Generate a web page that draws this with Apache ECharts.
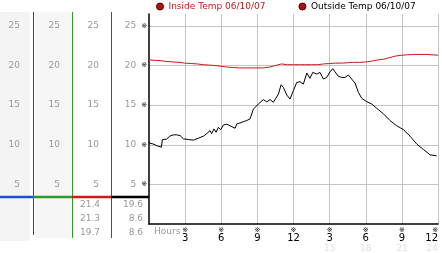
<!DOCTYPE html>
<html>
<head>
<meta charset="utf-8">
<script src="https://cdn.jsdelivr.net/npm/echarts@6/dist/echarts.min.js"></script>
<style>html,body{margin:0;padding:0;background:#fff;}#c{width:442px;height:253px;}</style>
</head>
<body>
<div id="c"></div>
<script>
var seriesNames = ['Inside Temp 06/10/07', 'Outside Temp 06/10/07'];
var xTicks = [3, 6, 9, 12, 15, 18, 21, 24];
var yTicks = [5, 10, 15, 20, 25];
var insideHours = [0,0.5,1,1.5,2,2.5,3,3.5,4,4.5,5,5.5,6,6.5,7,7.5,8,8.5,9,9.5,10,10.5,11,11.5,12,12.5,13,13.5,14,14.5,15,15.5,16,16.5,17,17.5,18,18.5,19,19.5,20,20.5,21,21.5,22,22.5,23,23.5,24];
var insideTemps = [20.7,20.65,20.6,20.5,20.45,20.4,20.3,20.25,20.2,20.1,20.05,20.0,19.9,19.8,19.75,19.7,19.7,19.7,19.7,19.7,19.8,20.0,20.2,20.1,20.1,20.1,20.1,20.1,20.1,20.2,20.25,20.3,20.3,20.35,20.4,20.4,20.45,20.55,20.7,20.8,21.0,21.2,21.3,21.35,21.4,21.4,21.4,21.35,21.3];
var outsideHours = [0,0.33,0.75,1.03,1.11,1.45,1.72,2.0,2.3,2.58,2.86,3.27,3.69,4.1,4.52,4.8,5.07,5.2,5.4,5.57,5.76,5.96,6.18,6.46,6.73,7.15,7.29,7.56,7.84,8.11,8.39,8.67,8.8,9.08,9.5,9.78,10.05,10.33,10.47,10.75,10.97,11.16,11.44,11.71,11.99,12.27,12.54,12.82,13.1,13.37,13.6,13.93,14.2,14.48,14.76,15.03,15.26,15.45,15.73,16.0,16.28,16.56,16.83,17.11,17.39,17.67,18.08,18.5,18.91,19.47,20.02,20.57,21.13,21.68,22.23,22.79,23.34,23.89];
var outsideTemps = [10.24,10.1,9.82,9.7,10.66,10.7,11.08,11.25,11.25,11.16,10.74,10.66,10.58,10.83,11.08,11.41,11.79,11.4,12.0,11.58,12.2,11.9,12.5,12.6,12.4,12.08,12.63,12.75,12.92,13.05,13.26,14.5,14.7,15.14,15.7,15.4,15.7,15.36,15.27,16.4,17.57,17.24,16.28,15.77,16.82,17.87,17.95,17.66,19.04,18.38,19.13,18.92,19.13,18.29,18.5,19.2,19.6,19.2,18.63,18.5,18.5,18.8,18.29,17.79,16.6,15.86,15.44,15.14,14.6,13.9,13.05,12.4,11.9,11.08,10.1,9.4,8.73,8.6];
var insideStats = [21.4, 21.3, 19.7];
var outsideStats = [19.6, 8.6, 8.6];

var FONT = 'DejaVu Sans';
var RED = '#c41a1a';
var chart = echarts.init(document.getElementById('c'));

function pairs(xs, ys) { return xs.map(function (x, i) { return [x, ys[i]]; }); }

function sideAxis(offset, margin) {
  return {
    type: 'value', gridIndex: 0, position: 'left', offset: offset,
    min: 0, max: 26.5, interval: 5,
    axisLine: { show: false }, axisTick: { show: false }, splitLine: { show: false },
    axisLabel: {
      margin: margin, showMinLabel: false, showMaxLabel: false,
      color: '#999', fontFamily: FONT, fontSize: 9,
      formatter: function (v) { return yTicks.indexOf(v) >= 0 ? String(v) : ''; }
    }
  };
}

var graphics = [
  { type: 'rect', z: -1, shape: { x: 0, y: 12, width: 30, height: 229 }, style: { fill: '#f4f4f4' } },
  { type: 'rect', z: -1, shape: { x: 35, y: 12, width: 37, height: 226 }, style: { fill: '#f6f6f6' } },
  { type: 'line', shape: { x1: 33.5, y1: 12, x2: 33.5, y2: 235 }, style: { stroke: '#1a44c8', lineWidth: 1 } },
  { type: 'line', shape: { x1: 72.5, y1: 12, x2: 72.5, y2: 238 }, style: { stroke: '#2aa02a', lineWidth: 1 } },
  { type: 'line', shape: { x1: 111.5, y1: 12, x2: 111.5, y2: 238 }, style: { stroke: '#c02020', lineWidth: 1 } },
  { type: 'line', shape: { x1: 0, y1: 197, x2: 33, y2: 197 }, style: { stroke: '#1f4fd0', lineWidth: 2.5 } },
  { type: 'line', shape: { x1: 33, y1: 197, x2: 72, y2: 197 }, style: { stroke: '#2a9a2a', lineWidth: 2.5 } },
  { type: 'line', shape: { x1: 72, y1: 197, x2: 111, y2: 197 }, style: { stroke: '#d01a1a', lineWidth: 2.5 } },
  { type: 'line', shape: { x1: 111, y1: 197, x2: 149, y2: 197 }, style: { stroke: '#000', lineWidth: 2.5 } },
  { type: 'text', left: 154, top: 227, style: { text: 'Hours', fill: '#999', font: '9px ' + FONT } }
];
var rowsY = [204.5, 219, 232.5];
insideStats.forEach(function (v, i) {
  graphics.push({ type: 'text', style: { x: 100, y: rowsY[i], text: v.toFixed(1), fill: '#999', font: '9px ' + FONT, align: 'right', verticalAlign: 'middle' } });
});
outsideStats.forEach(function (v, i) {
  graphics.push({ type: 'text', style: { x: 143, y: rowsY[i], text: v.toFixed(1), fill: '#999', font: '9px ' + FONT, align: 'right', verticalAlign: 'middle' } });
});

var option = {
  animation: false,
  backgroundColor: '#fff',
  legend: {
    left: 156, top: 2, itemWidth: 7, itemHeight: 7, itemGap: 33, icon: 'circle', padding: 0,
    textStyle: { fontFamily: FONT, fontSize: 9 },
    data: [
      { name: seriesNames[0], itemStyle: { color: '#b01010', borderColor: '#500', borderWidth: 1 }, textStyle: { color: RED } },
      { name: seriesNames[1], itemStyle: { color: '#b01010', borderColor: '#500', borderWidth: 1 }, textStyle: { color: '#000' } }
    ]
  },
  grid: { left: 149, right: 4, top: 14, height: 211 },
  xAxis: {
    type: 'value', min: 0, max: 24, interval: 3,
    axisLine: { show: true, lineStyle: { color: '#000', width: 1.5 } },
    axisTick: { show: false },
    splitLine: { show: true, showMinLine: false, showMaxLine: true, lineStyle: { color: '#c4c4c4', width: 1 } },
    axisLabel: {
      margin: 3, showMinLabel: false, alignMaxLabel: 'right',
      formatter: function (v) {
        if (xTicks.indexOf(v) < 0) return '';
        var h = v % 12 === 0 ? 12 : v % 12;
        var s = '{m|※}\n{d|' + h + '}';
        if (v > 12) s += '\n{f|' + v + '}';
        return s;
      },
      rich: {
        m: { fontFamily: FONT, fontSize: 7, lineHeight: 6, color: '#000' },
        d: { fontFamily: FONT, fontSize: 10, lineHeight: 10, color: '#000' },
        f: { fontFamily: FONT, fontSize: 9, lineHeight: 11, color: '#e2e2e2' }
      }
    }
  },
  yAxis: [
    {
      type: 'value', position: 'left', min: 0, max: 26.5, interval: 5,
      axisLine: { show: true, lineStyle: { color: '#000', width: 1.5 } },
      axisTick: { show: false },
      splitLine: { show: true, showMinLine: false, showMaxLine: false, lineStyle: { color: '#c4c4c4', width: 1 } },
      axisLabel: {
        margin: 2, showMinLabel: false, showMaxLabel: false,
        formatter: function (v) { return yTicks.indexOf(v) >= 0 ? '{v|' + v + '}{m|※}' : ''; },
        rich: {
          v: { fontFamily: FONT, fontSize: 9, color: '#999' },
          m: { fontFamily: FONT, fontSize: 7, color: '#000', padding: [0, 0, 0, 5] }
        }
      }
    },
    sideAxis(38, 12),
    sideAxis(77, 12),
    sideAxis(116, 13)
  ],
  graphic: graphics,
  series: [
    { name: seriesNames[0], type: 'line', data: pairs(insideHours, insideTemps), showSymbol: false, lineStyle: { color: RED, width: 1 }, itemStyle: { color: RED } },
    { name: seriesNames[1], type: 'line', data: pairs(outsideHours, outsideTemps), showSymbol: false, lineStyle: { color: '#000', width: 1 }, itemStyle: { color: '#000' } }
  ]
};
chart.setOption(option);
</script>
</body>
</html>
